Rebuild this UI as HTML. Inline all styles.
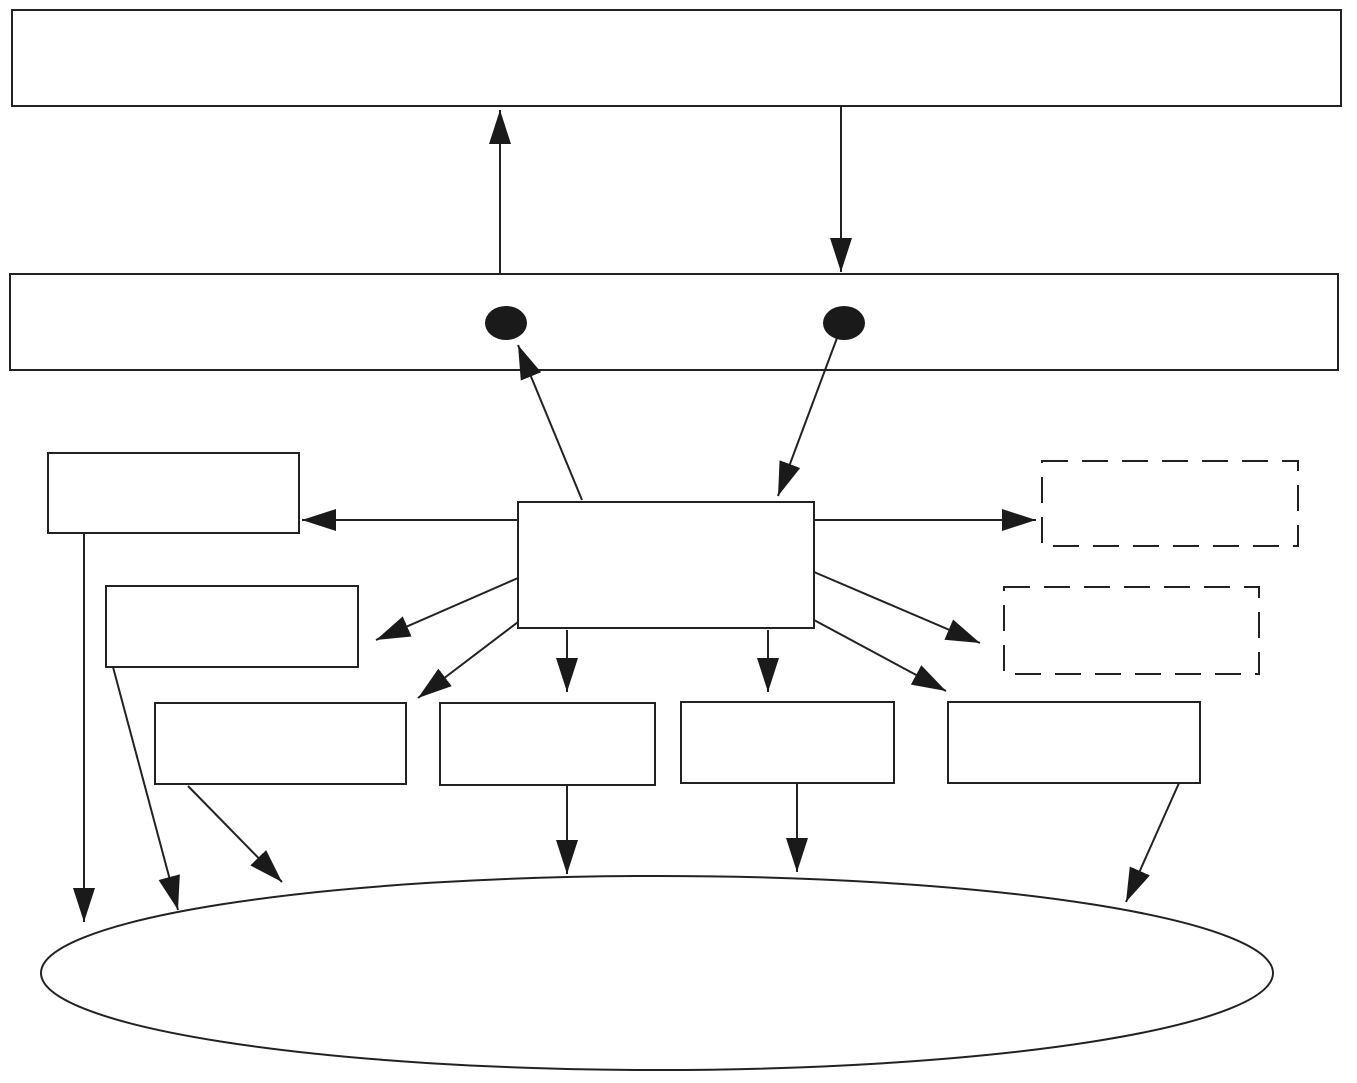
<!DOCTYPE html>
<html><head><meta charset="utf-8"><style>html,body{margin:0;padding:0;background:#fff}svg{display:block}</style></head>
<body>
<svg width="1357" height="1083" viewBox="0 0 1357 1083" xmlns="http://www.w3.org/2000/svg">
<defs>
<marker id="a" markerWidth="36" markerHeight="24" refX="34" refY="12" orient="auto" markerUnits="userSpaceOnUse">
<path d="M0,1 L34,12 L0,23 Z" fill="#1a1a1a"/>
</marker>
</defs>
<g fill="none" stroke="#222" stroke-width="2">
<rect x="12" y="10" width="1329" height="96"/>
<rect x="10" y="274" width="1328" height="96"/>
<rect x="518" y="502" width="296" height="126"/>
<rect x="48" y="453" width="251" height="80"/>
<rect x="106" y="586" width="252" height="81"/>
<rect x="155" y="703" width="251" height="81"/>
<rect x="440" y="703" width="215" height="82"/>
<rect x="681" y="702" width="213" height="81"/>
<rect x="948" y="702" width="252" height="81"/>
<rect x="1042" y="461" width="256" height="85" stroke-dasharray="26,14"/>
<rect x="1004" y="587" width="255" height="87" stroke-dasharray="26,14"/>
<ellipse cx="657" cy="973" rx="616" ry="97"/>
</g>
<ellipse cx="506" cy="323" rx="21" ry="17" fill="#1a1a1a"/>
<ellipse cx="844" cy="323" rx="21" ry="17" fill="#1a1a1a"/>
<g stroke="#222" stroke-width="2" marker-end="url(#a)">
<line x1="500" y1="274" x2="500" y2="110"/>
<line x1="841" y1="106" x2="841" y2="272"/>
<line x1="582" y1="500" x2="518" y2="345"/>
<line x1="837" y1="338" x2="778" y2="496"/>
<line x1="518" y1="520" x2="302" y2="520"/>
<line x1="814" y1="520" x2="1036" y2="520"/>
<line x1="518" y1="578" x2="376" y2="640"/>
<line x1="814" y1="572" x2="980" y2="643"/>
<line x1="518" y1="622" x2="418" y2="698"/>
<line x1="567" y1="630" x2="567" y2="692"/>
<line x1="768" y1="630" x2="768" y2="692"/>
<line x1="814" y1="620" x2="946" y2="691"/>
<line x1="84" y1="533" x2="84" y2="922"/>
<line x1="113" y1="667" x2="178" y2="910"/>
<line x1="188" y1="786" x2="282" y2="882"/>
<line x1="567" y1="785" x2="567" y2="874"/>
<line x1="797" y1="784" x2="797" y2="872"/>
<line x1="1179" y1="783" x2="1126" y2="902"/>
</g>
</svg>
</body></html>
